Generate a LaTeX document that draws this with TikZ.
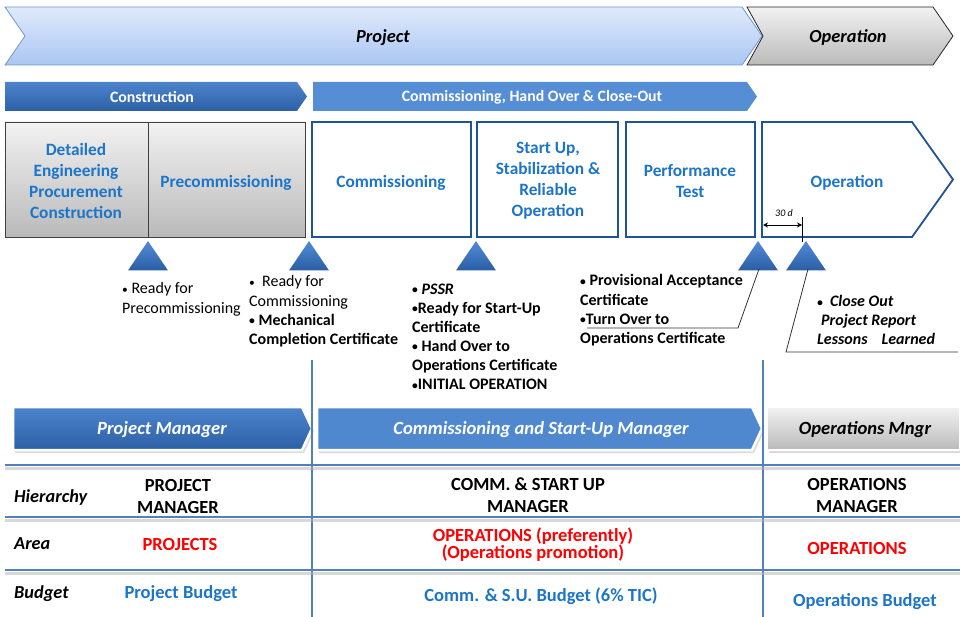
\documentclass[tikz,border=0pt]{standalone}
\usepackage{fontspec}
\usepackage{graphicx}
\setmainfont{Carlito}
\usetikzlibrary{calc,arrows.meta}
\newcommand\smb{\raisebox{0.6pt}{\scalebox{0.72}{•}}}
\definecolor{txtblue}{RGB}{28,117,200}
\definecolor{bdrblue}{RGB}{31,84,148}
\definecolor{lineblue}{RGB}{79,129,189}
\definecolor{projtop}{RGB}{224,234,251}
\definecolor{projbot}{RGB}{170,198,243}
\definecolor{projbdr}{RGB}{111,150,210}
\definecolor{darktop}{RGB}{76,132,204}
\definecolor{darkbot}{RGB}{44,96,166}
\definecolor{midblue}{RGB}{85,142,213}
\definecolor{midblue2}{RGB}{79,136,207}
\definecolor{graytop}{RGB}{242,242,242}
\definecolor{graybot}{RGB}{186,186,186}
\definecolor{tritop}{RGB}{82,140,214}
\definecolor{tribot}{RGB}{42,94,164}
\tikzset{
  graybox/.style={top color=graytop, bottom color=graybot, draw=black!75, line width=0.9pt},
  whitebox/.style={fill=white, draw=bdrblue, line width=1.8pt},
  boxtxt/.style={inner sep=0, align=center, text=txtblue, font=\fontsize{17.3}{21}\selectfont\bfseries},
  bartxt/.style={inner sep=0, text=white, font=\fontsize{15.8}{19}\selectfont\bfseries},
  lbl/.style={inner sep=0, align=left, anchor=north west, font=\fontsize{16}{19.2}\selectfont},
  roletxt/.style={inner sep=0, font=\fontsize{18.6}{22}\selectfont\bfseries\itshape},
  tabtxt/.style={inner sep=0, align=center, font=\fontsize{18.5}{22}\selectfont\bfseries},
  rowlbl/.style={inner sep=0, anchor=west, font=\fontsize{18.3}{22}\selectfont\bfseries\itshape},
  milestone/.style={top color=tritop, bottom color=tribot, draw=none},
  leader/.style={draw=black!80, line width=0.8pt},
  tabline/.style={draw=lineblue, line width=1.4pt},
  tabshadow/.style={draw=black!30, line width=3pt, opacity=0.5},
  vline/.style={draw=lineblue, line width=1.2pt},
  rshadow/.style={fill=black!40, opacity=0.35},
}
\begin{document}
\begin{tikzpicture}[x=1pt,y=-1pt]
\useasboundingbox (0,0) rectangle (960,617);

% ---- top chevrons
\path[top color=projtop, bottom color=projbot, draw=projbdr, line width=0.8pt]
  (5,7) -- (742,7) -- (762,36) -- (742,65) -- (5,65) -- (25,36) -- cycle;
\node[inner sep=0, font=\fontsize{18.4}{22}\selectfont\bfseries\itshape] (project) at (383,38) {Project};
\path[top color=graytop, bottom color=graybot, draw=black!85, line width=0.8pt]
  (747,7) -- (933,7) -- (953,36) -- (933,65) -- (747,65) -- (763,36) -- cycle;
\node[inner sep=0, font=\fontsize{18.4}{22}\selectfont\bfseries\itshape] (operationtop) at (848,37.5) {Operation};

% ---- phase bars
\path[top color=darktop, bottom color=darkbot]
  (5,82) -- (297,82) -- (307,96.5) -- (297,111) -- (5,111) -- cycle;
\node[bartxt] (construction) at (152,97) {Construction};
\path[fill=midblue]
  (313,82) -- (747,82) -- (757,96.5) -- (747,111) -- (313,111) -- cycle;
\node[bartxt] (commbar) at (532,97) {Commissioning, Hand Over \& Close-Out};

% ---- boxes
\path[graybox] (5,122) rectangle (148,237);
\path[graybox] (148,122) rectangle (305,237);
\path[whitebox] (312,122) rectangle (471,237);
\path[whitebox] (477,122) rectangle (618,237);
\path[whitebox] (626,122) rectangle (755,237);
\path[whitebox] (762,122) -- (912,122) -- (953,179.5) -- (912,237) -- (762,237) -- cycle;
\node[boxtxt] (depc) at (76,180.5) {Detailed\\Engineering\\Procurement\\Construction};
\node[boxtxt] (precomm) at (226,183) {Precommissioning};
\node[boxtxt] (comm) at (391,183) {Commissioning};
\node[boxtxt] (startup) at (548,181) {Start Up,\\Stabilization \&\\Reliable\\Operation};
\node[boxtxt] (perf) at (690,181) {Performance\\Test};
\node[boxtxt] (oper) at (847,183) {Operation};

% ---- 30 d
\coordinate (dA) at (763,225);
\coordinate (dB) at (802,225);
\draw[line width=0.9pt, {Stealth[length=5pt,width=5pt]}-{Stealth[length=5pt,width=5pt]}] (dA) -- (dB);
\coordinate (tickT) at (802,217);
\coordinate (tickB) at (802,242);
\draw[line width=0.9pt] (tickT) -- (tickB);
\node[inner sep=0, font=\fontsize{10}{12}\selectfont\itshape] (thirty) at (784,213.5) {30 d};

% ---- milestones
\foreach \cx/\nm in {148/m1, 309/m2, 476/m3, 758/m4, 806/m5}{
  \coordinate (\nm) at (\cx,241);
  \path[milestone] (\nm) -- ++(-20,29.5) -- ++(40,0) -- cycle;
}

% ---- annotation texts
\node[lbl] (a1) at (122,282.5) {\smb\ Ready for\\Precommissioning};
\node[lbl] (a2) at (249,275.5) {\smb\ \ Ready for\\Commissioning\\\textbf{\smb\ Mechanical}\\\textbf{Completion Certificate}};
\node[lbl, font=\fontsize{16}{19.1}\selectfont\bfseries] (a3) at (412,283.5) {\smb\ \textit{PSSR}\\\smb Ready for Start-Up\\Certificate\\\smb\ Hand Over to\\Operations Certificate\\\smb INITIAL OPERATION};
\node[lbl, font=\fontsize{16}{19.1}\selectfont\bfseries] (a4) at (580,274.5) {\smb\ Provisional Acceptance\\Certificate\\\smb Turn Over to\\Operations Certificate};
\node[lbl, font=\fontsize{16}{18.6}\selectfont\bfseries\itshape] (a5) at (817,295.5) {\smb\ \ Close Out\\\hspace*{4pt}Project Report\\Lessons\hspace*{14pt}Learned};

% ---- leaders
\coordinate (m4foot) at (759,269);
\coordinate (l4a) at (738,328);
\coordinate (l4b) at (587,328);
\draw[leader] (m4foot) -- (l4a) -- (l4b);
\coordinate (m5foot) at (808,269);
\coordinate (l5a) at (786,352);
\coordinate (l5b) at (958,352);
\draw[leader] (m5foot) -- (l5a) -- (l5b);

% ---- vertical separators
\coordinate (v1t) at (312,360); \coordinate (v1b) at (312,617);
\coordinate (v2t) at (763,360); \coordinate (v2b) at (763,617);

% ---- role arrows
\path[rshadow] (15,410) -- (304,410) -- (314,431) -- (304,453) -- (15,453) -- cycle;
\path[top color=darktop, bottom color=darkbot, draw=white, line width=2.5pt]
  (13,407) -- (302,407) -- (312,428.5) -- (302,450) -- (13,450) -- cycle;
\node[roletxt, text=white] (pm) at (162,429.5) {Project Manager};
\path[rshadow] (319,410) -- (754,410) -- (764,431) -- (754,453) -- (319,453) -- cycle;
\path[fill=midblue2, draw=white, line width=2.5pt]
  (317,407) -- (752,407) -- (762,428.5) -- (752,450) -- (317,450) -- cycle;
\node[roletxt, text=white] (csm) at (541,429.5) {Commissioning and Start-Up Manager};
\path[rshadow] (769,410) rectangle (962,453);
\path[top color=graytop, bottom color=graybot, draw=white, line width=2pt] (767,407) rectangle (960,450);
\node[roletxt] (om) at (865,429.5) {Operations Mngr};

\draw[vline] (v1t) -- (v1b);
\draw[vline] (v2t) -- (v2b);

% ---- table lines
\foreach \yy/\nm in {465/h1, 517/h2, 570/h3}{
  \coordinate (\nm l) at (5,\yy);
  \coordinate (\nm r) at (960,\yy);
  \draw[tabshadow] ($(\nm l)+(0,3)$) -- ($(\nm r)+(0,3)$);
  \draw[tabline] (\nm l) -- (\nm r);
}

% ---- table texts
\node[rowlbl] (hier) at (14,498) {Hierarchy};
\node[rowlbl] (area) at (14,544) {Area};
\node[rowlbl] (budget) at (14,594) {Budget};
\node[tabtxt] (t11) at (178,496) {PROJECT\\MANAGER};
\node[tabtxt] (t12) at (528,495) {COMM. \& START UP\\MANAGER};
\node[tabtxt] (t13) at (857,495) {OPERATIONS\\MANAGER};
\node[tabtxt, text=red] (t21) at (180,544) {PROJECTS};
\node[tabtxt, text=red, font=\fontsize{18.5}{17.5}\selectfont\bfseries] (t22) at (533,544.5) {OPERATIONS (preferently)\\(Operations promotion)};
\node[tabtxt, text=red] (t23) at (857,548) {OPERATIONS};
\node[tabtxt, text=txtblue] (t31) at (181,594) {Project Budget};
\node[tabtxt, text=txtblue] (t32) at (541,596) {Comm. \& S.U. Budget (6\% TIC)};
\node[tabtxt, text=txtblue] (t33) at (865,602) {Operations Budget};
\end{tikzpicture}
\end{document}
